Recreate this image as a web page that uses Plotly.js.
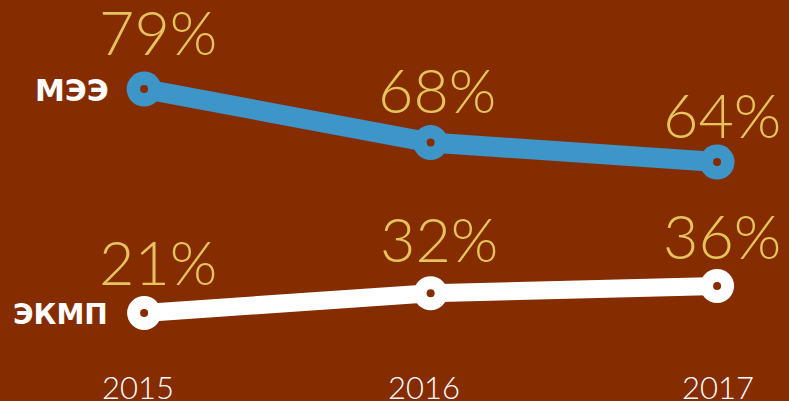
<!DOCTYPE html>
<html><head><meta charset="utf-8">
<script src="https://cdn.plot.ly/plotly-3.0.1.min.js"></script>
<style>html,body{margin:0;padding:0;background:#852D00;}#c{width:789px;height:401px;}</style>
</head><body><div id="c"></div>
<script>
const years = [2015, 2016, 2017];
const yearLabels = ['2015', '2016', '2017'];
const meeName = 'МЭЭ';
const ekmpName = 'ЭКМП';
const meeValues = [79, 68, 64];
const ekmpValues = [21, 32, 36];

const bg = '#852D00';
const blue = '#3E95C8';
const yellow = '#E6C45B';
const numFont = {family: 'Lato, sans-serif', size: 61, color: yellow, weight: 300};

const traces = [
  {x: years, y: meeValues, yaxis: 'y', mode: 'lines+markers', line: {color: blue, width: 20},
   marker: {size: 35, color: blue}, hoverinfo: 'skip'},
  {x: years, y: meeValues, yaxis: 'y', mode: 'markers', marker: {size: 8, color: bg}, hoverinfo: 'skip'},
  {x: years, y: ekmpValues, yaxis: 'y2', mode: 'lines+markers', line: {color: '#FFFFFF', width: 18},
   marker: {size: 34, color: '#FFFFFF'}, hoverinfo: 'skip'},
  {x: years, y: ekmpValues, yaxis: 'y2', mode: 'markers', marker: {size: 8, color: bg}, hoverinfo: 'skip'}
];

const meeShift = [[14, 19], [6, 15], [5, 9]];
const ekmpShift = [[14, 13], [8, 16], [5, 12]];
const yearShift = [-6, -7, 1];
const annotations = [];
years.forEach((yr, i) => {
  annotations.push({x: yr, y: meeValues[i], xref: 'x', yref: 'y', text: meeValues[i] + '%',
    showarrow: false, xanchor: 'center', yanchor: 'bottom', xshift: meeShift[i][0], yshift: meeShift[i][1], font: numFont});
  annotations.push({x: yr, y: ekmpValues[i], xref: 'x', yref: 'y2', text: ekmpValues[i] + '%',
    showarrow: false, xanchor: 'center', yanchor: 'bottom', xshift: ekmpShift[i][0], yshift: ekmpShift[i][1], font: numFont});
  annotations.push({x: yr, y: 0, xref: 'x', yref: 'paper', text: yearLabels[i], showarrow: false,
    xanchor: 'center', yanchor: 'top', xshift: yearShift[i], yshift: -1,
    font: {family: 'Lato, sans-serif', size: 31, color: '#FFFFFF', weight: 300}});
});
annotations.push({x: years[0], y: meeValues[0], xref: 'x', yref: 'y', text: '<b>' + meeName + '</b>', showarrow: false,
  xanchor: 'right', yanchor: 'middle', xshift: -33, yshift: -1,
  font: {family: 'DejaVu Sans, sans-serif', size: 30, color: '#FFFFFF'}});
annotations.push({x: years[0], y: ekmpValues[0], xref: 'x', yref: 'y2', text: '<b>' + ekmpName + '</b>', showarrow: false,
  xanchor: 'right', yanchor: 'middle', xshift: -34, yshift: -2,
  font: {family: 'DejaVu Sans, sans-serif', size: 28, color: '#FFFFFF'}});

const layout = {
  width: 789, height: 401,
  paper_bgcolor: bg, plot_bgcolor: bg,
  margin: {l: 0, r: 0, t: 0, b: 36},
  showlegend: false,
  xaxis: {range: [2014.497, 2017.251], showticklabels: false, showgrid: false, zeroline: false,
    showline: false, ticks: ''},
  yaxis: {range: [22.3, 97.29], visible: false, showgrid: false, zeroline: false},
  yaxis2: {range: [-7.9, 194.9], overlaying: 'y', visible: false, showgrid: false, zeroline: false},
  annotations: annotations
};
Plotly.newPlot('c', traces, layout, {staticPlot: true, displayModeBar: false});
</script></body></html>
